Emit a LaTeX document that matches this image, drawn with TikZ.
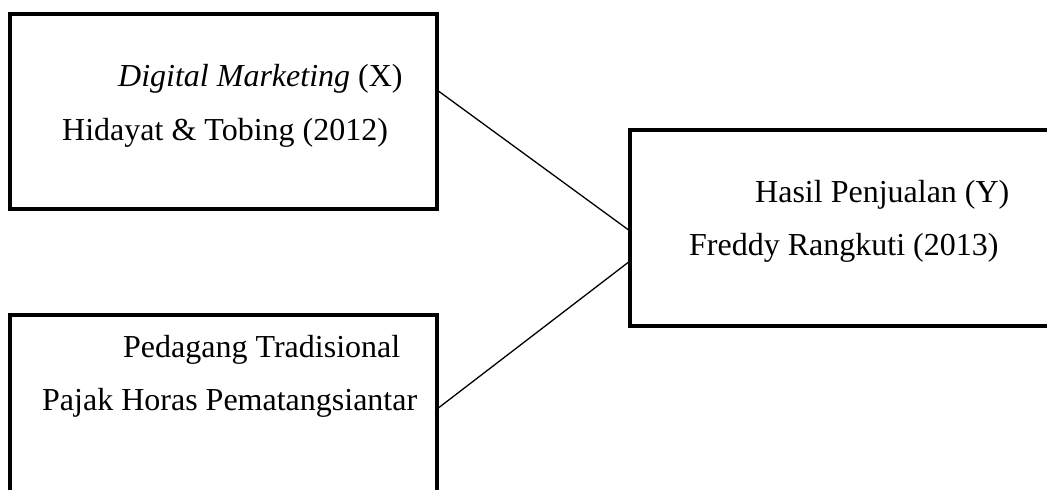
\documentclass[tikz,border=0pt]{standalone}
\usepackage{fontspec}
\setmainfont{Liberation Serif}
\usetikzlibrary{calc}
\begin{document}
\begin{tikzpicture}[x=1pt,y=-1pt,
  box/.style={draw, line width=4.5pt, outer sep=0pt, inner sep=0pt, anchor=north west},
  lbl/.style={anchor=base west, inner sep=0pt, font=\fontsize{32}{38}\selectfont},
  link/.style={line width=1.3pt}]
\useasboundingbox (0,0) rectangle (1047,490);
\clip (0,0) rectangle (1047,490);
\node[box, minimum width=427pt, minimum height=195pt] (b1) at (10,14) {};
\node[box, minimum width=427pt, minimum height=230pt] (b2) at (10,315) {};
\node[box, minimum width=460pt, minimum height=196pt] (b3) at (630,130) {};
\node[lbl] (t1a) at (118,86) {\textit{Digital Marketing} (X)};
\node[lbl] (t1b) at (62,140) {Hidayat \& Tobing (2012)};
\node[lbl] (t2a) at (123,357) {Pedagang Tradisional};
\node[lbl] (t2b) at (42,410) {Pajak Horas Pematangsiantar};
\node[lbl] (t3a) at (755,202) {Hasil Penjualan (Y)};
\node[lbl] (t3b) at (689,255) {Freddy Rangkuti (2013)};
\draw[link] ($(b1.north east)+(0,76)$) -- ($(b3.north west)+(0,101)$);
\draw[link] ($(b2.north east)+(0,94)$) -- ($(b3.north west)+(0,131)$);
\end{tikzpicture}
\end{document}
